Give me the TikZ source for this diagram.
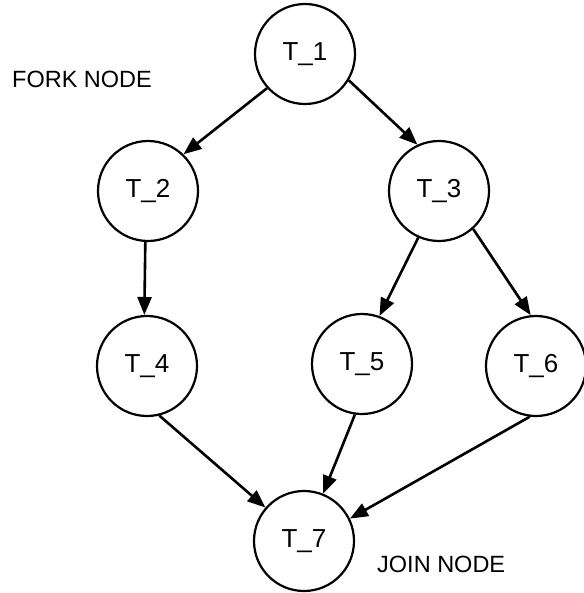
\documentclass[tikz,border=0pt]{standalone}
\usepackage{fontspec}
\setmainfont{Liberation Sans}
\usetikzlibrary{arrows.meta}
\tikzset{
  task/.style={draw, circle, line width=2.2pt, minimum size=100pt, inner sep=0pt,
    font=\fontsize{26}{30}\selectfont},
  flow/.style={line width=2.6pt, -{Triangle[length=18pt,width=14pt]}},
  tag/.style={anchor=base west, inner sep=0pt, font=\fontsize{23.5}{27}\selectfont}}

\begin{document}
\begin{tikzpicture}[x=1pt,y=-1pt]
\useasboundingbox (0,0) rectangle (583,593);
% tasks
\node [task] (t1) at (305,54) {T\_1};
\node [task] (t2) at (148,191) {T\_2};
\node [task] (t3) at (439,191) {T\_3};
\node [task] (t4) at (147,366) {T\_4};
\node [task] (t5) at (362,364) {T\_5};
\node [task] (t6) at (536,366) {T\_6};
\node [task] (t7) at (304,541) {T\_7};
% fork and join
\node [tag] (fork) at (12,88) {FORK NODE};
\node [tag] (join) at (377,572) {JOIN NODE};
% precedence arcs
\draw [flow] (t1.-138) -- (t2.46);
\draw [flow] (t1.-31) -- (t3.115);
\draw [flow] (t2.-93) -- (t4.93);
\draw [flow] (t3.-114) -- (t5.70);
\draw [flow] (t3.-48) -- (t6.96);
\draw [flow] (t4.-76) -- (t7.139);
\draw [flow] (t5.-98) -- (t7.68);
\draw [flow] (t6.-97) -- (t7.26);
\end{tikzpicture}
\end{document}
